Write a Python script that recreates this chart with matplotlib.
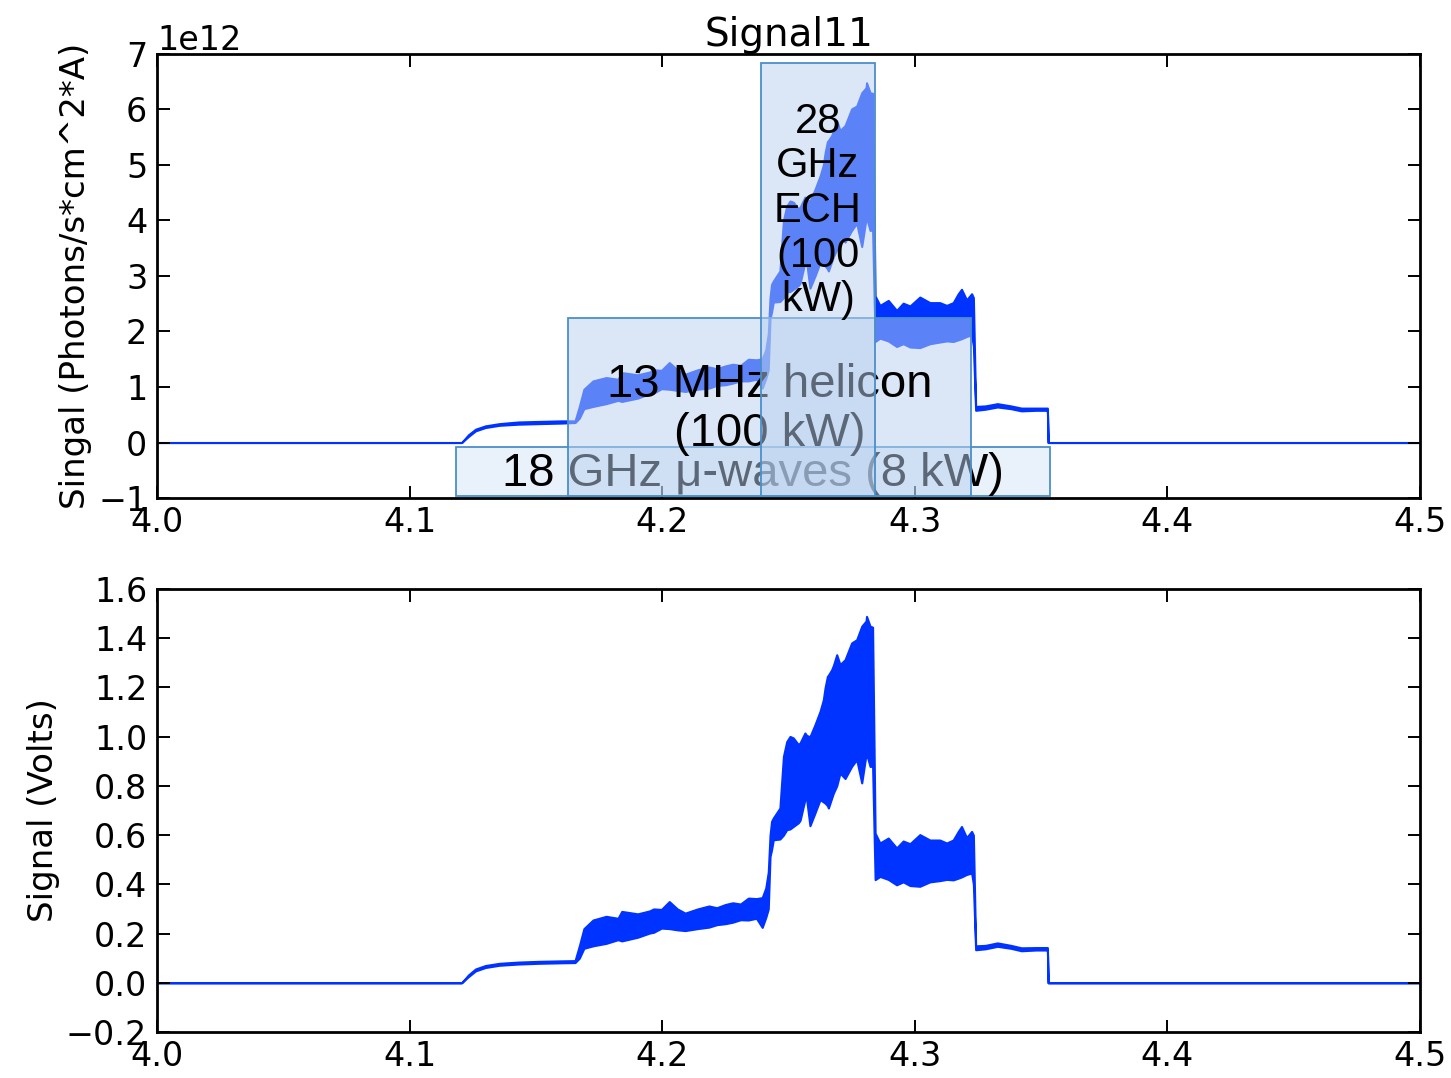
import matplotlib
matplotlib.use('Agg')
import matplotlib.pyplot as plt
from matplotlib.patches import Rectangle

# shot time base (s) shared by both diagnostics
time_s = [4.000, 4.1206, 4.1233, 4.1261, 4.1300, 4.1355, 4.1430, 4.1510, 4.1600, 4.1655,
          4.1672, 4.1690, 4.1726, 4.1778, 4.1825, 4.1840, 4.1903, 4.1950, 4.1966, 4.1997,
          4.2028, 4.2060, 4.2091, 4.2140, 4.2185, 4.2216, 4.2250, 4.2279, 4.2310, 4.2341,
          4.2373, 4.2396, 4.2410, 4.2420, 4.2427, 4.2433, 4.2440, 4.2466, 4.2480, 4.2493,
          4.2506, 4.2519, 4.2539, 4.2546, 4.2565, 4.2572, 4.2585, 4.2605, 4.2625, 4.2638,
          4.2645, 4.2654, 4.2658, 4.2671, 4.2678, 4.2691, 4.2704, 4.2724, 4.2750, 4.2770,
          4.2790, 4.2807, 4.2809, 4.2823, 4.2833, 4.2843, 4.2862, 4.2895, 4.2928, 4.2954,
          4.2981, 4.3020, 4.3060, 4.3099, 4.3126, 4.3152, 4.3172, 4.3185, 4.3205, 4.3225,
          4.3232, 4.3241, 4.3280, 4.3327, 4.3380, 4.3422, 4.3480, 4.3525, 4.3528, 4.5000]

# calibrated photon signal, min/max envelope (units of 1e12 photons/s*cm^2*A)
photon_lo = [0, 0, 0.11, 0.21, 0.27, 0.31, 0.33, 0.34, 0.35, 0.36,
             0.44, 0.61, 0.65, 0.70, 0.76, 0.74, 0.80, 0.88, 0.89, 0.97,
             0.96, 0.94, 0.92, 0.96, 0.98, 1.03, 1.04, 1.07, 1.11, 1.11,
             1.14, 0.98, 1.15, 1.31, 2.23, 2.35, 2.53, 2.54, 2.61, 2.71,
             2.72, 2.76, 2.83, 2.87, 3.24, 3.24, 2.78, 3.00, 3.24, 3.20,
             3.18, 3.13, 3.09, 3.26, 3.35, 3.48, 3.71, 3.61, 3.82, 3.95,
             3.53, 4.03, 4.05, 3.82, 3.83, 1.82, 1.88, 1.83, 1.73, 1.78,
             1.72, 1.71, 1.78, 1.81, 1.83, 1.82, 1.85, 1.87, 1.91, 1.94,
             1.74, 0.58, 0.60, 0.64, 0.61, 0.57, 0.58, 0.58, 0, 0]
photon_hi = [0, 0, 0.14, 0.24, 0.30, 0.34, 0.37, 0.38, 0.39, 0.39,
             0.65, 0.96, 1.11, 1.17, 1.14, 1.26, 1.22, 1.27, 1.31, 1.30,
             1.44, 1.31, 1.23, 1.31, 1.36, 1.33, 1.38, 1.41, 1.39, 1.50,
             1.49, 1.51, 1.67, 1.96, 2.61, 2.85, 2.91, 3.09, 4.00, 4.26,
             4.35, 4.33, 4.21, 4.24, 4.42, 4.37, 4.35, 4.56, 4.80, 5.00,
             5.22, 5.42, 5.44, 5.53, 5.61, 5.80, 5.62, 5.71, 6.01, 6.06,
             6.30, 6.39, 6.48, 6.30, 6.29, 2.64, 2.47, 2.56, 2.38, 2.51,
             2.46, 2.62, 2.52, 2.52, 2.47, 2.52, 2.68, 2.76, 2.57, 2.68,
             2.61, 0.65, 0.66, 0.70, 0.66, 0.62, 0.62, 0.62, 0, 0]

# raw detector voltage, min/max envelope (V)
volt_lo = [0, 0, 0.025, 0.048, 0.062, 0.071, 0.076, 0.079, 0.081, 0.082,
           0.100, 0.140, 0.150, 0.160, 0.175, 0.170, 0.185, 0.202, 0.205, 0.222,
           0.220, 0.215, 0.212, 0.220, 0.226, 0.236, 0.240, 0.246, 0.256, 0.255,
           0.262, 0.225, 0.265, 0.300, 0.513, 0.540, 0.581, 0.584, 0.600, 0.622,
           0.625, 0.635, 0.650, 0.660, 0.744, 0.744, 0.638, 0.690, 0.744, 0.735,
           0.730, 0.720, 0.710, 0.750, 0.771, 0.800, 0.852, 0.830, 0.879, 0.907,
           0.812, 0.927, 0.930, 0.879, 0.880, 0.419, 0.432, 0.420, 0.398, 0.410,
           0.395, 0.392, 0.410, 0.415, 0.420, 0.418, 0.425, 0.430, 0.440, 0.446,
           0.400, 0.134, 0.138, 0.148, 0.140, 0.130, 0.133, 0.133, 0, 0]
volt_hi = [0, 0, 0.032, 0.056, 0.070, 0.079, 0.084, 0.087, 0.089, 0.090,
           0.150, 0.220, 0.255, 0.270, 0.262, 0.290, 0.280, 0.292, 0.300, 0.298,
           0.330, 0.300, 0.283, 0.300, 0.312, 0.305, 0.318, 0.325, 0.320, 0.344,
           0.342, 0.346, 0.385, 0.450, 0.600, 0.656, 0.670, 0.710, 0.920, 0.980,
           1.001, 0.995, 0.968, 0.975, 1.015, 1.005, 1.000, 1.049, 1.103, 1.150,
           1.200, 1.245, 1.250, 1.272, 1.290, 1.333, 1.293, 1.313, 1.381, 1.394,
           1.449, 1.470, 1.489, 1.449, 1.445, 0.608, 0.568, 0.588, 0.548, 0.576,
           0.565, 0.602, 0.580, 0.580, 0.568, 0.580, 0.615, 0.635, 0.590, 0.615,
           0.600, 0.150, 0.152, 0.162, 0.152, 0.142, 0.143, 0.143, 0, 0]

# heating sources: label, t_on, t_off, box bottom/top and label height (1e12 units)
heating_labels = [u'18 GHz \u03bc-waves (8 kW)', '13 MHz helicon\n(100 kW)', '28\nGHz\nECH\n(100\nkW)']
heating_on = [4.1184, 4.1628, 4.2390]
heating_off = [4.3535, 4.3221, 4.2842]
box_bottom = [-0.96, -0.97, -0.97]
box_top = [-0.08, 2.24, 6.84]
label_y = [-0.57, 0.60, 4.17]
label_size = [34, 34, 30]
box_alpha = [0.3, 0.5, 0.5]

x_ticks = [4.0, 4.1, 4.2, 4.3, 4.4, 4.5]

sig_color = '#0033ff'
box_color = (0.726, 0.82, 0.94)
edge_color = '#4a8fc9'

plt.rcParams['font.family'] = 'DejaVu Sans'
plt.rcParams['axes.linewidth'] = 2.0
plt.rcParams['xtick.direction'] = 'in'
plt.rcParams['ytick.direction'] = 'in'
plt.rcParams['xtick.top'] = True
plt.rcParams['ytick.right'] = True
plt.rcParams['xtick.major.size'] = 9
plt.rcParams['ytick.major.size'] = 9
plt.rcParams['xtick.major.width'] = 1.4
plt.rcParams['ytick.major.width'] = 1.4
plt.rcParams['xtick.major.pad'] = 6
plt.rcParams['ytick.major.pad'] = 7
plt.rcParams['xtick.labelsize'] = 24
plt.rcParams['ytick.labelsize'] = 24

fig = plt.figure(figsize=(14.51, 10.78), dpi=100)
fig.patch.set_facecolor('white')
ax1 = fig.add_axes([0.1082, 0.538, 0.8704, 0.412])
ax2 = fig.add_axes([0.1082, 0.0427, 0.8704, 0.4109])

# --- top: calibrated photon flux with heating windows ---
scale = 1e12
lo1 = [v * scale for v in photon_lo]
hi1 = [v * scale for v in photon_hi]
ax1.fill_between(time_s, lo1, hi1, color=sig_color, lw=1.5, edgecolor=sig_color, zorder=1)

z = 3
for lab, t0, t1, yb, yt, ly, fs, a in zip(heating_labels, heating_on, heating_off, box_bottom,
                                          box_top, label_y, label_size, box_alpha):
    ax1.add_patch(Rectangle((t0, yb * scale), t1 - t0, (yt - yb) * scale,
                            facecolor=box_color + (a,), edgecolor=edge_color, lw=1.3, zorder=z))
    ax1.text((t0 + t1) / 2, ly * scale, lab, ha='center', va='center', fontsize=fs,
             family='Liberation Sans', linespacing=1.15, zorder=z + 1)
    z += 2

ax1.set_xlim(4.0, 4.5)
ax1.set_ylim(-1e12, 7e12)
ax1.set_xticks(x_ticks)
ax1.set_yticks([v * scale for v in range(-1, 8)])
ax1.yaxis.get_offset_text().set_fontsize(24)
ax1.set_ylabel('Singal (Photons/s*cm^2*A)', fontsize=24.5)
ax1.set_title('Signal11', fontsize=28, pad=4)

# --- bottom: raw voltage ---
ax2.fill_between(time_s, volt_lo, volt_hi, color=sig_color, lw=1.5, edgecolor=sig_color)
ax2.set_xlim(4.0, 4.5)
ax2.set_ylim(-0.2, 1.6)
ax2.set_xticks(x_ticks)
ax2.set_yticks([-0.2, 0.0, 0.2, 0.4, 0.6, 0.8, 1.0, 1.2, 1.4, 1.6])
ax2.set_ylabel('Signal (Volts)', fontsize=24.5)

fig.savefig('out.png', dpi=100, facecolor='white')
